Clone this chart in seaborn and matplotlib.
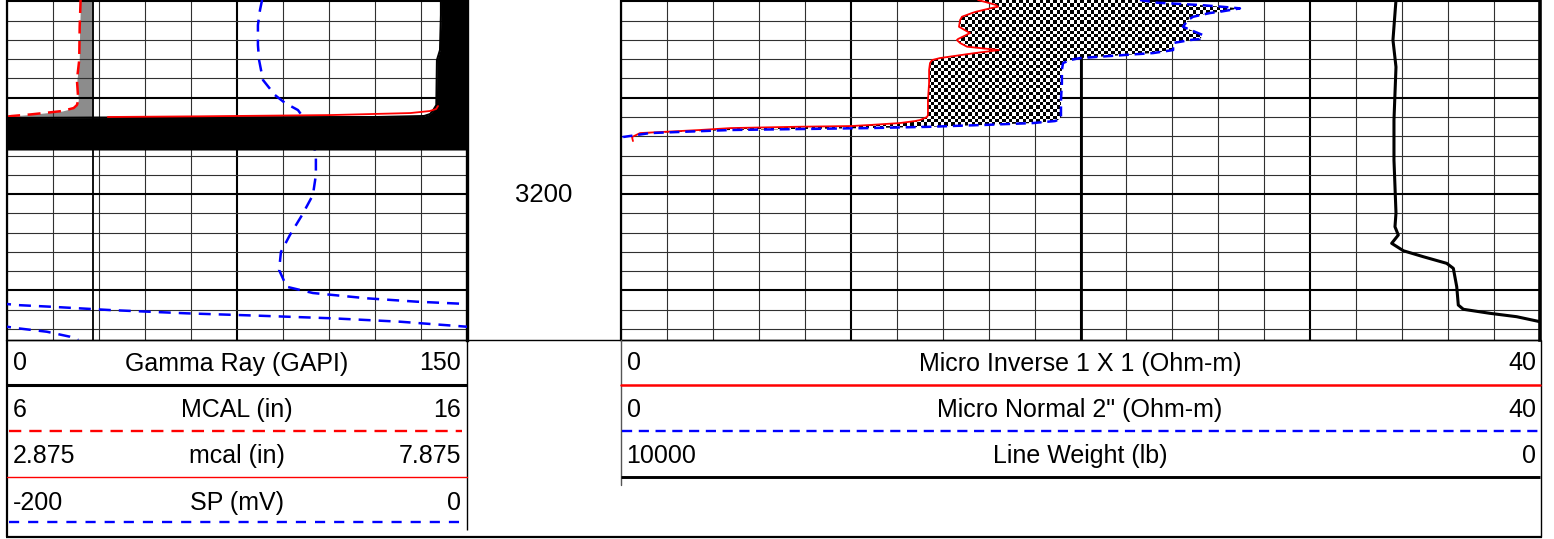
import numpy as np
import matplotlib
matplotlib.use("Agg")
import matplotlib.pyplot as plt
import seaborn as sns
from matplotlib.path import Path
from matplotlib.transforms import offset_copy

# ---- log data (depth in ft) ----
GR_DEPTH = [3179.85, 3181.41, 3185.05, 3186.09, 3190.76, 3191.28, 3191.69,
            3191.90, 3192.00, 3192.06, 3192.11, 3195.43]
GR = [141.5, 141.5, 141.2, 140.2, 140.0, 139.0, 138.0, 136.0, 121.0, 30.0, 0.0, 0.0]

MCAL_DEPTH = [3179.85, 3182.63, 3186.09, 3188.16, 3190.24, 3190.76, 3191.07,
              3191.38, 3191.59, 3191.74, 3191.90, 3192.00]
MCAL = [7.60, 7.58, 7.57, 7.52, 7.55, 7.52, 7.45, 7.20, 6.80, 6.50, 6.10, 5.95]
BIT_SIZE = 7.875

MCAL2_DEPTH = [3190.86, 3191.17, 3191.38, 3191.59, 3191.80, 3191.93, 3192.00]
MCAL2 = [7.56, 7.54, 7.47, 7.26, 6.39, 4.97, 3.97]

SP_DEPTH = [3179.85, 3180.89, 3182.45, 3184.53, 3186.09, 3188.16, 3189.72, 3190.55,
            3191.28, 3192.00, 3193.35, 3194.91, 3196.26, 3198.03, 3200.10, 3202.18,
            3204.26, 3206.02, 3207.89, 3209.63, 3210.28, 3210.83, 3211.18, 3211.42,
            3211.53, 3211.70, 3212.05, 3212.39, 3212.64, 3212.91, 3213.26, 3213.78,
            3213.95, 3214.30, 3214.82, 3215.16]
SP = [-89.1, -90.0, -90.9, -90.9, -90.4, -88.7, -83.5, -79.1, -73.5, -71.3, -68.7,
      -66.5, -65.7, -65.7, -67.0, -71.7, -77.0, -80.9, -81.7, -78.4, -67.0, -43.6,
      -21.9, -0.1, 4.2, 18.7, 44.8, 78.1, 110.0, 141.7, 170.9, 199.9, 204.9, 217.3,
      227.4, 231.0]

MICRO_DEPTH = [3179.85, 3180.13, 3180.37, 3180.55, 3180.72, 3181.07, 3181.20, 3181.59,
               3181.93, 3182.63, 3183.28, 3183.49, 3183.90, 3184.01, 3184.32, 3184.70,
               3185.05, 3185.36, 3185.88, 3186.09, 3186.40, 3187.12, 3188.47, 3190.24,
               3191.80, 3192.00, 3192.32, 3192.42, 3192.63, 3192.83, 3192.94, 3193.01,
               3193.15, 3193.35, 3193.67, 3194.08, 3194.50]
MICRO_INV = [15.54, 15.97, 16.32, 16.41, 16.06, 15.45, 15.28, 14.84, 14.76, 14.71, 15.19,
             15.02, 14.67, 14.62, 14.76, 15.06, 16.45, 15.41, 13.88, 13.54, 13.45, 13.41,
             13.41, 13.36, 13.36, 13.32, 13.01, 12.80, 12.14, 10.84, 10.01, 7.79, 4.79,
             3.44, 0.83, 0.48, 0.52]
MICRO_NOR = [22.59, 23.33, 25.20, 26.16, 26.94, 26.07, 25.64, 24.90, 24.68, 24.46, 25.11,
             25.33, 25.20, 24.77, 24.03, 24.03, 24.03, 23.16, 19.98, 19.54, 19.24, 19.19,
             19.19, 19.15, 19.15, 19.15, 19.02, 18.89, 17.93, 15.76, 14.32, 13.58, 10.84,
             4.79, 1.26, 0.09, 0.04]

LW_DEPTH = [3179.85, 3184.01, 3186.81, 3192.32, 3196.47, 3201.97, 3203.40, 3204.26,
            3205.12, 3205.89, 3206.51, 3207.20, 3207.72, 3209.63, 3211.53, 3211.97,
            3212.39, 3212.74, 3213.26, 3214.12]
LINE_WEIGHT = [1567, 1600, 1567, 1589, 1589, 1567, 1578, 1542, 1614, 1487, 1270, 1015,
               943, 906, 889, 834, 544, 254, 0, -200]

DEPTH_LABEL = 3200
TOP, BOTTOM = 3179.85, 3215.16

TRACK1_HEADER = [("0", "Gamma Ray (GAPI)", "150"),
                 ("6", "MCAL (in)", "16"),
                 ("2.875", "mcal (in)", "7.875"),
                 ("-200", "SP (mV)", "0")]
TRACK2_HEADER = [("0", "Micro Inverse 1 X 1 (Ohm-m)", "40"),
                 ("0", "Micro Normal 2\" (Ohm-m)", "40"),
                 ("10000", "Line Weight (lb)", "0")]

sns.set_style("white")
plt.rcParams["font.family"] = ["Liberation Sans", "DejaVu Sans"]
plt.rcParams["text.color"] = "black"

W, H = 1554, 539
FS = 18
fig = plt.figure(figsize=(W / 100, H / 100), dpi=100)


def rect(x0, y0, x1, y1):
    return [x0 / W, 1 - y1 / H, (x1 - x0) / W, (y1 - y0) / H]


def grid_track(ax, lo, hi, step, majors):
    ax.set_xlim(lo, hi)
    ax.set_ylim(BOTTOM, TOP)
    ax.set_xticks(majors)
    ax.set_xticks(np.arange(lo, hi + step / 2, step), minor=True)
    ax.set_yticks(np.arange(3180, 3216, 10))
    ax.set_yticks(np.arange(3180, 3216, 2), minor=True)
    ax.grid(which="minor", color="#303030", lw=0.8)
    ax.grid(which="major", color="black", lw=1.5)
    ax.set_axisbelow(True)
    ax.tick_params(which="both", length=0, labelbottom=False, labelleft=False)
    ax.spines["top"].set_visible(False)
    for s in ("left", "right", "bottom"):
        ax.spines[s].set_color("black")


def twin(ax, lo, hi):
    t = ax.twiny()
    t.set_xlim(lo, hi)
    t.axis("off")
    return t


def curve(ax, x, y, color, lw, dashes=None):
    sns.lineplot(x=x, y=y, ax=ax, orient="y", sort=False, estimator=None,
                 color=color, lw=lw)
    line = ax.lines[-1]
    if dashes:
        line.set_dashes(dashes)
    ax.set_xlabel("")
    ax.set_ylabel("")
    return line


# ---- track 1 ----
ax1 = fig.add_axes(rect(7, 0, 467, 340))
grid_track(ax1, 6, 16, 1, [11])
ax1.spines["left"].set_linewidth(1.6)
ax1.spines["right"].set_linewidth(2.4)
ax1.spines["bottom"].set_linewidth(1.0)
mcal = np.array(MCAL)
ax1.fill_betweenx(MCAL_DEPTH, mcal, BIT_SIZE, where=mcal < BIT_SIZE,
                  color="#8c8c8c", lw=0, zorder=0.2)
ax1.axvline(BIT_SIZE, color="black", lw=1.3, zorder=2)
curve(ax1, MCAL, MCAL_DEPTH, "red", 1.8, (5.2, 3.0))

ax_sp = twin(ax1, -200, 0)
sp = np.array(SP)
for shift in (0, 200, 400):  # wrap-around of off-scale SP
    curve(ax_sp, sp - shift, SP_DEPTH, "blue", 1.8, (4.8, 3.2))

ax_gr = twin(ax1, 0, 150)
ax_gr.fill_betweenx(GR_DEPTH, GR, 150, color="black", lw=0)
curve(ax_gr, GR, GR_DEPTH, "black", 1.5)

ax_mc = twin(ax1, 2.875, 7.875)
curve(ax_mc, MCAL2, MCAL2_DEPTH, "red", 1.3)

# ---- depth track ----
axd = fig.add_axes(rect(467, 0, 621, 340))
axd.set_xlim(0, 1)
axd.set_ylim(BOTTOM, TOP)
axd.axis("off")
axd.text(0.5, DEPTH_LABEL, str(DEPTH_LABEL), ha="center", va="baseline", fontsize=18.5,
         transform=offset_copy(axd.transData, fig, y=-7.7, units="dots"))

# ---- track 2 ----
ax2 = fig.add_axes(rect(621, 0, 1540, 340))
grid_track(ax2, 0, 40, 2, [10, 20, 30])
ax2.axvline(20, color="black", lw=2.0, zorder=0.6)
ax2.spines["left"].set_linewidth(1.6)
ax2.spines["right"].set_linewidth(2.6)
ax2.spines["bottom"].set_linewidth(1.0)

inv = np.array(MICRO_INV)
nor = np.array(MICRO_NOR)
checker = np.indices((100, 270)).sum(axis=0) % 2
im = ax2.imshow(checker, cmap="gray_r", vmin=0, vmax=1, extent=(0, 40, BOTTOM, TOP),
                aspect="auto", interpolation="nearest", zorder=1)
sep = ax2.fill_betweenx(MICRO_DEPTH, inv, nor, where=nor >= inv, interpolate=True,
                        facecolor="none", edgecolor="none")
im.set_clip_path(Path.make_compound_path(*sep.get_paths()), ax2.transData)
curve(ax2, MICRO_INV, MICRO_DEPTH, "red", 1.3)
curve(ax2, MICRO_NOR, MICRO_DEPTH, "blue", 1.8, (4.0, 2.3))
ax2.set_xlim(0, 40)

ax_lw = twin(ax2, 10000, 0)
curve(ax_lw, LINE_WEIGHT, LW_DEPTH, "black", 2.2)

for a in (ax1, ax2, axd):
    a.set_ylim(BOTTOM, TOP)

# ---- header / frame ----
hdr = fig.add_axes([0, 0, 1, 1])
hdr.set_xlim(0, W)
hdr.set_ylim(H, 0)
hdr.axis("off")

frame = dict(color="black", solid_capstyle="butt")
hdr.plot([7, 1541], [340, 340], lw=1.0, **frame)
hdr.plot([6, 1542], [537, 537], lw=1.6, **frame)
hdr.plot([7, 7], [340, 537], lw=1.6, **frame)
hdr.plot([1541, 1541], [340, 537], lw=1.0, **frame)
hdr.plot([467, 467], [340, 530], lw=1.0, **frame)
hdr.plot([621, 621], [340, 485], lw=1.0, color="#555555")

baselines = [370.5, 416.7, 463.3, 510]
for (lo, name, hi), yb in zip(TRACK1_HEADER, baselines):
    hdr.text(12.5, yb, lo, ha="left", va="baseline", fontsize=FS)
    hdr.text(237, yb, name, ha="center", va="baseline", fontsize=FS)
    hdr.text(461, yb, hi, ha="right", va="baseline", fontsize=FS)
for (lo, name, hi), yb in zip(TRACK2_HEADER, baselines):
    hdr.text(626.5, yb, lo, ha="left", va="baseline", fontsize=FS)
    hdr.text(1080, yb, name, ha="center", va="baseline", fontsize=FS)
    hdr.text(1536, yb, hi, ha="right", va="baseline", fontsize=FS)

hdr.plot([7, 467], [384.5, 384.5], lw=2.2, **frame)
l = hdr.plot([9, 462], [430.5, 430.5], color="red", lw=1.7)[0]
l.set_dashes((5.2, 3.4))
hdr.plot([7, 467], [476.5, 476.5], color="red", lw=1.0)
l = hdr.plot([9, 462], [522, 522], color="blue", lw=1.7)[0]
l.set_dashes((4.3, 3.8))

hdr.plot([621, 1540], [384.5, 384.5], color="red", lw=1.8)
l = hdr.plot([622, 1540], [430.5, 430.5], color="blue", lw=1.7)[0]
l.set_dashes((4.3, 2.8))
hdr.plot([621, 1540], [476.5, 476.5], lw=2.1, **frame)

fig.savefig("out.png", dpi=100)
